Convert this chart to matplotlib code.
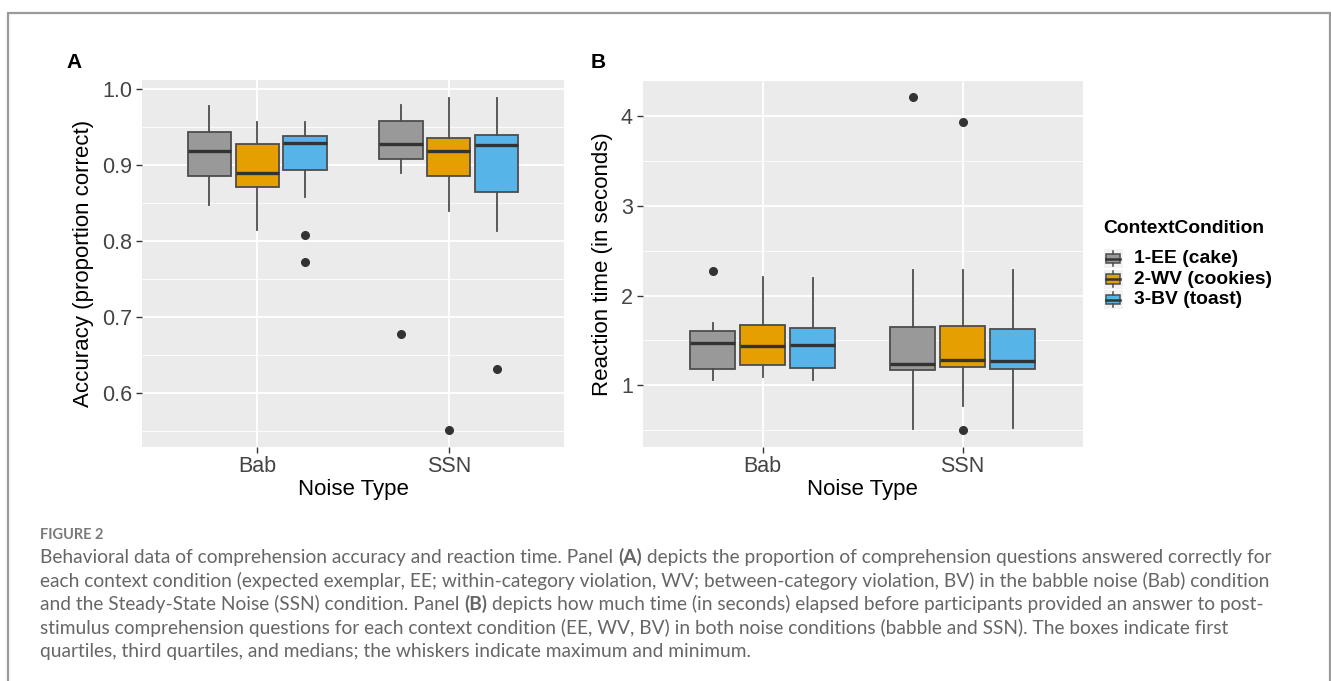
import numpy as np
import matplotlib
matplotlib.use("Agg")
import matplotlib.pyplot as plt
from matplotlib.patches import Rectangle

plt.rcParams['font.family'] = ['Liberation Sans', 'DejaVu Sans']

# ---- data ----
noise_types = ["Bab", "SSN"]
conditions = ["1-EE (cake)", "2-WV (cookies)", "3-BV (toast)"]
cond_colors = ["#999999", "#E69F00", "#56B4E9"]

# accuracy, rows = noise type, cols = condition
acc_whislo = [[0.848, 0.815, 0.858], [0.889, 0.840, 0.813]]
acc_q1 = [[0.886, 0.871, 0.894], [0.908, 0.886, 0.865]]
acc_med = [[0.918, 0.889, 0.929], [0.928, 0.918, 0.927]]
acc_q3 = [[0.944, 0.928, 0.939], [0.958, 0.936, 0.940]]
acc_whishi = [[0.978, 0.957, 0.957], [0.979, 0.988, 0.989]]
acc_fliers = [[[], [], [0.808, 0.773]], [[0.678], [0.551], [0.631]]]

# reaction time (s)
rt_whislo = [[1.056, 1.093, 1.063], [0.511, 0.767, 0.522]]
rt_q1 = [[1.182, 1.227, 1.193], [1.171, 1.200, 1.182]]
rt_med = [[1.467, 1.433, 1.444], [1.233, 1.282, 1.267]]
rt_q3 = [[1.608, 1.671, 1.638], [1.649, 1.660, 1.627]]
rt_whishi = [[1.693, 2.211, 2.200], [2.282, 2.282, 2.282]]
rt_fliers = [[[2.271], [], []], [[4.204], [3.933, 0.504], []]]

caption_head = "FIGURE 2"
caption_lines = [
    [("Behavioral data of comprehension accuracy and reaction time. Panel ", "normal"), ("(A)", "bold"),
     (" depicts the proportion of comprehension questions answered correctly for", "normal")],
    [("each context condition (expected exemplar, EE; within-category violation, WV; between-category violation, BV) in the babble noise (Bab) condition", "normal")],
    [("and the Steady-State Noise (SSN) condition. Panel ", "normal"), ("(B)", "bold"),
     (" depicts how much time (in seconds) elapsed before participants provided an answer to post-", "normal")],
    [("stimulus comprehension questions for each context condition (EE, WV, BV) in both noise conditions (babble and SSN). The boxes indicate first", "normal")],
    [("quartiles, third quartiles, and medians; the whiskers indicate maximum and minimum.", "normal")],
]

W, H = 1331, 681
fig = plt.figure(figsize=(W / 100, H / 100), dpi=100)


def px_axes(left, top, right, bottom):
    return fig.add_axes([left / W, 1 - bottom / H, (right - left) / W, (bottom - top) / H])


def gg_panel(ax, whislo, q1, med, q3, whishi, fliers, ylim, major, minor, fmt, ylabel):
    ax.set_facecolor("#EBEBEB")
    for s in ax.spines.values():
        s.set_visible(False)
    offsets = [-0.25, 0.0, 0.25]
    for i in range(len(noise_types)):
        for j in range(len(conditions)):
            st = dict(whislo=whislo[i][j], q1=q1[i][j], med=med[i][j], q3=q3[i][j],
                      whishi=whishi[i][j], fliers=fliers[i][j])
            ax.bxp([st], positions=[i + 1 + offsets[j]], widths=0.225, patch_artist=True,
                   showcaps=False,
                   boxprops=dict(facecolor=cond_colors[j], edgecolor="#4D4D4D", linewidth=1.3),
                   medianprops=dict(color="#333333", linewidth=2.4),
                   whiskerprops=dict(color="#4D4D4D", linewidth=1.3),
                   flierprops=dict(marker="o", markerfacecolor="#333333", markeredgecolor="#333333",
                                   markersize=5.5),
                   zorder=3)
    ax.set_xlim(0.4, 2.6)
    ax.set_ylim(*ylim)
    ax.set_xticks([1, 2])
    ax.set_xticklabels(noise_types)
    ax.set_yticks(major)
    ax.set_yticklabels([fmt.format(v) for v in major])
    ax.set_yticks(minor, minor=True)
    ax.grid(which="major", color="white", linewidth=1.3, zorder=0)
    ax.grid(which="minor", axis="y", color="white", linewidth=0.6, zorder=0)
    ax.set_axisbelow(True)
    ax.tick_params(which="major", length=4, width=1, color="#333333", labelcolor="#444444",
                   labelsize=15.5, pad=3)
    ax.tick_params(which="minor", length=0)
    ax.set_xlabel("Noise Type", fontsize=16, labelpad=1)
    ax.set_ylabel(ylabel, fontsize=16, labelpad=6)


axA = px_axes(142, 80, 564, 446.7)
gg_panel(axA, acc_whislo, acc_q1, acc_med, acc_q3, acc_whishi, acc_fliers,
         (0.529, 1.0122), [0.6, 0.7, 0.8, 0.9, 1.0], [0.55, 0.65, 0.75, 0.85, 0.95],
         "{:.1f}", "Accuracy (proportion correct)")

axB = px_axes(642.7, 80.7, 1082.5, 446.7)
gg_panel(axB, rt_whislo, rt_q1, rt_med, rt_q3, rt_whishi, rt_fliers,
         (0.318, 4.39), [1, 2, 3, 4], [0.5, 1.5, 2.5, 3.5],
         "{:d}", "Reaction time (in seconds)")

# overlay in pixel coordinates for frame, labels, legend, caption
ov = fig.add_axes([0, 0, 1, 1], zorder=-1)
ov.set_xlim(0, W)
ov.set_ylim(H, 0)
ov.axis("off")
ov.plot([7.5, 7.5, 1329.5, 1329.5], [700, 12.5, 12.5, 700], color="#9A9A9A", lw=1.6,
        solid_joinstyle="miter", clip_on=False)

ov.text(66, 62, "A", fontsize=15, fontweight="bold", ha="left", va="center")
ov.text(591, 62, "B", fontsize=15, fontweight="bold", ha="left", va="center")

# legend
ov.text(1103, 228.5, "ContextCondition", fontsize=13.9, fontweight="bold", ha="left", va="center")
key_y = [258.5, 279, 299.5]
for yc, lab, col in zip(key_y, conditions, cond_colors):
    ks = 19
    x0 = 1103.5
    ov.add_patch(Rectangle((x0, yc - ks / 2), ks, ks, facecolor="#F2F2F2", edgecolor="none"))
    ov.add_patch(Rectangle((x0 + ks * 0.12, yc - ks * 0.25), ks * 0.76, ks * 0.5,
                           facecolor=col, edgecolor="#4D4D4D", lw=1.1))
    ov.plot([x0 + ks / 2] * 2, [yc - ks * 0.42, yc - ks * 0.25], color="#4D4D4D", lw=1.1)
    ov.plot([x0 + ks / 2] * 2, [yc + ks * 0.25, yc + ks * 0.42], color="#4D4D4D", lw=1.1)
    ov.plot([x0 + ks * 0.12, x0 + ks * 0.88], [yc, yc], color="#333333", lw=1.8)
    ov.text(1133.5, yc, lab, fontsize=13.9, fontweight="bold", ha="left", va="center")

# caption
cap_font = ["Lato", "DejaVu Sans"]
cap_color = "#666666"
ov.text(40, 535, caption_head, fontsize=10.5, family=cap_font, fontweight="bold",
        color="#7A7A7A", ha="left", va="center")

# fit caption size so the first line spans like the reference
renderer = fig.canvas.get_renderer()
probe = ov.text(0, 0, "".join(s for s, _ in caption_lines[0]), fontsize=12, family=cap_font)
w = probe.get_window_extent(renderer).width
probe.remove()
cap_size = 12 * (1271 - 40) / w

line_y = [557, 580.5, 604, 627.5, 651]
for segs, yy in zip(caption_lines, line_y):
    prev = None
    for s, wt in segs:
        if prev is None:
            prev = ov.text(40, yy, s, fontsize=cap_size, family=cap_font, fontweight=wt,
                           color=cap_color, ha="left", va="center")
        else:
            prev = ov.annotate(s, xy=(1, 0.5), xycoords=prev, fontsize=cap_size, family=cap_font,
                               fontweight=wt, color=cap_color, ha="left", va="center")

fig.savefig("out.png", dpi=100)
